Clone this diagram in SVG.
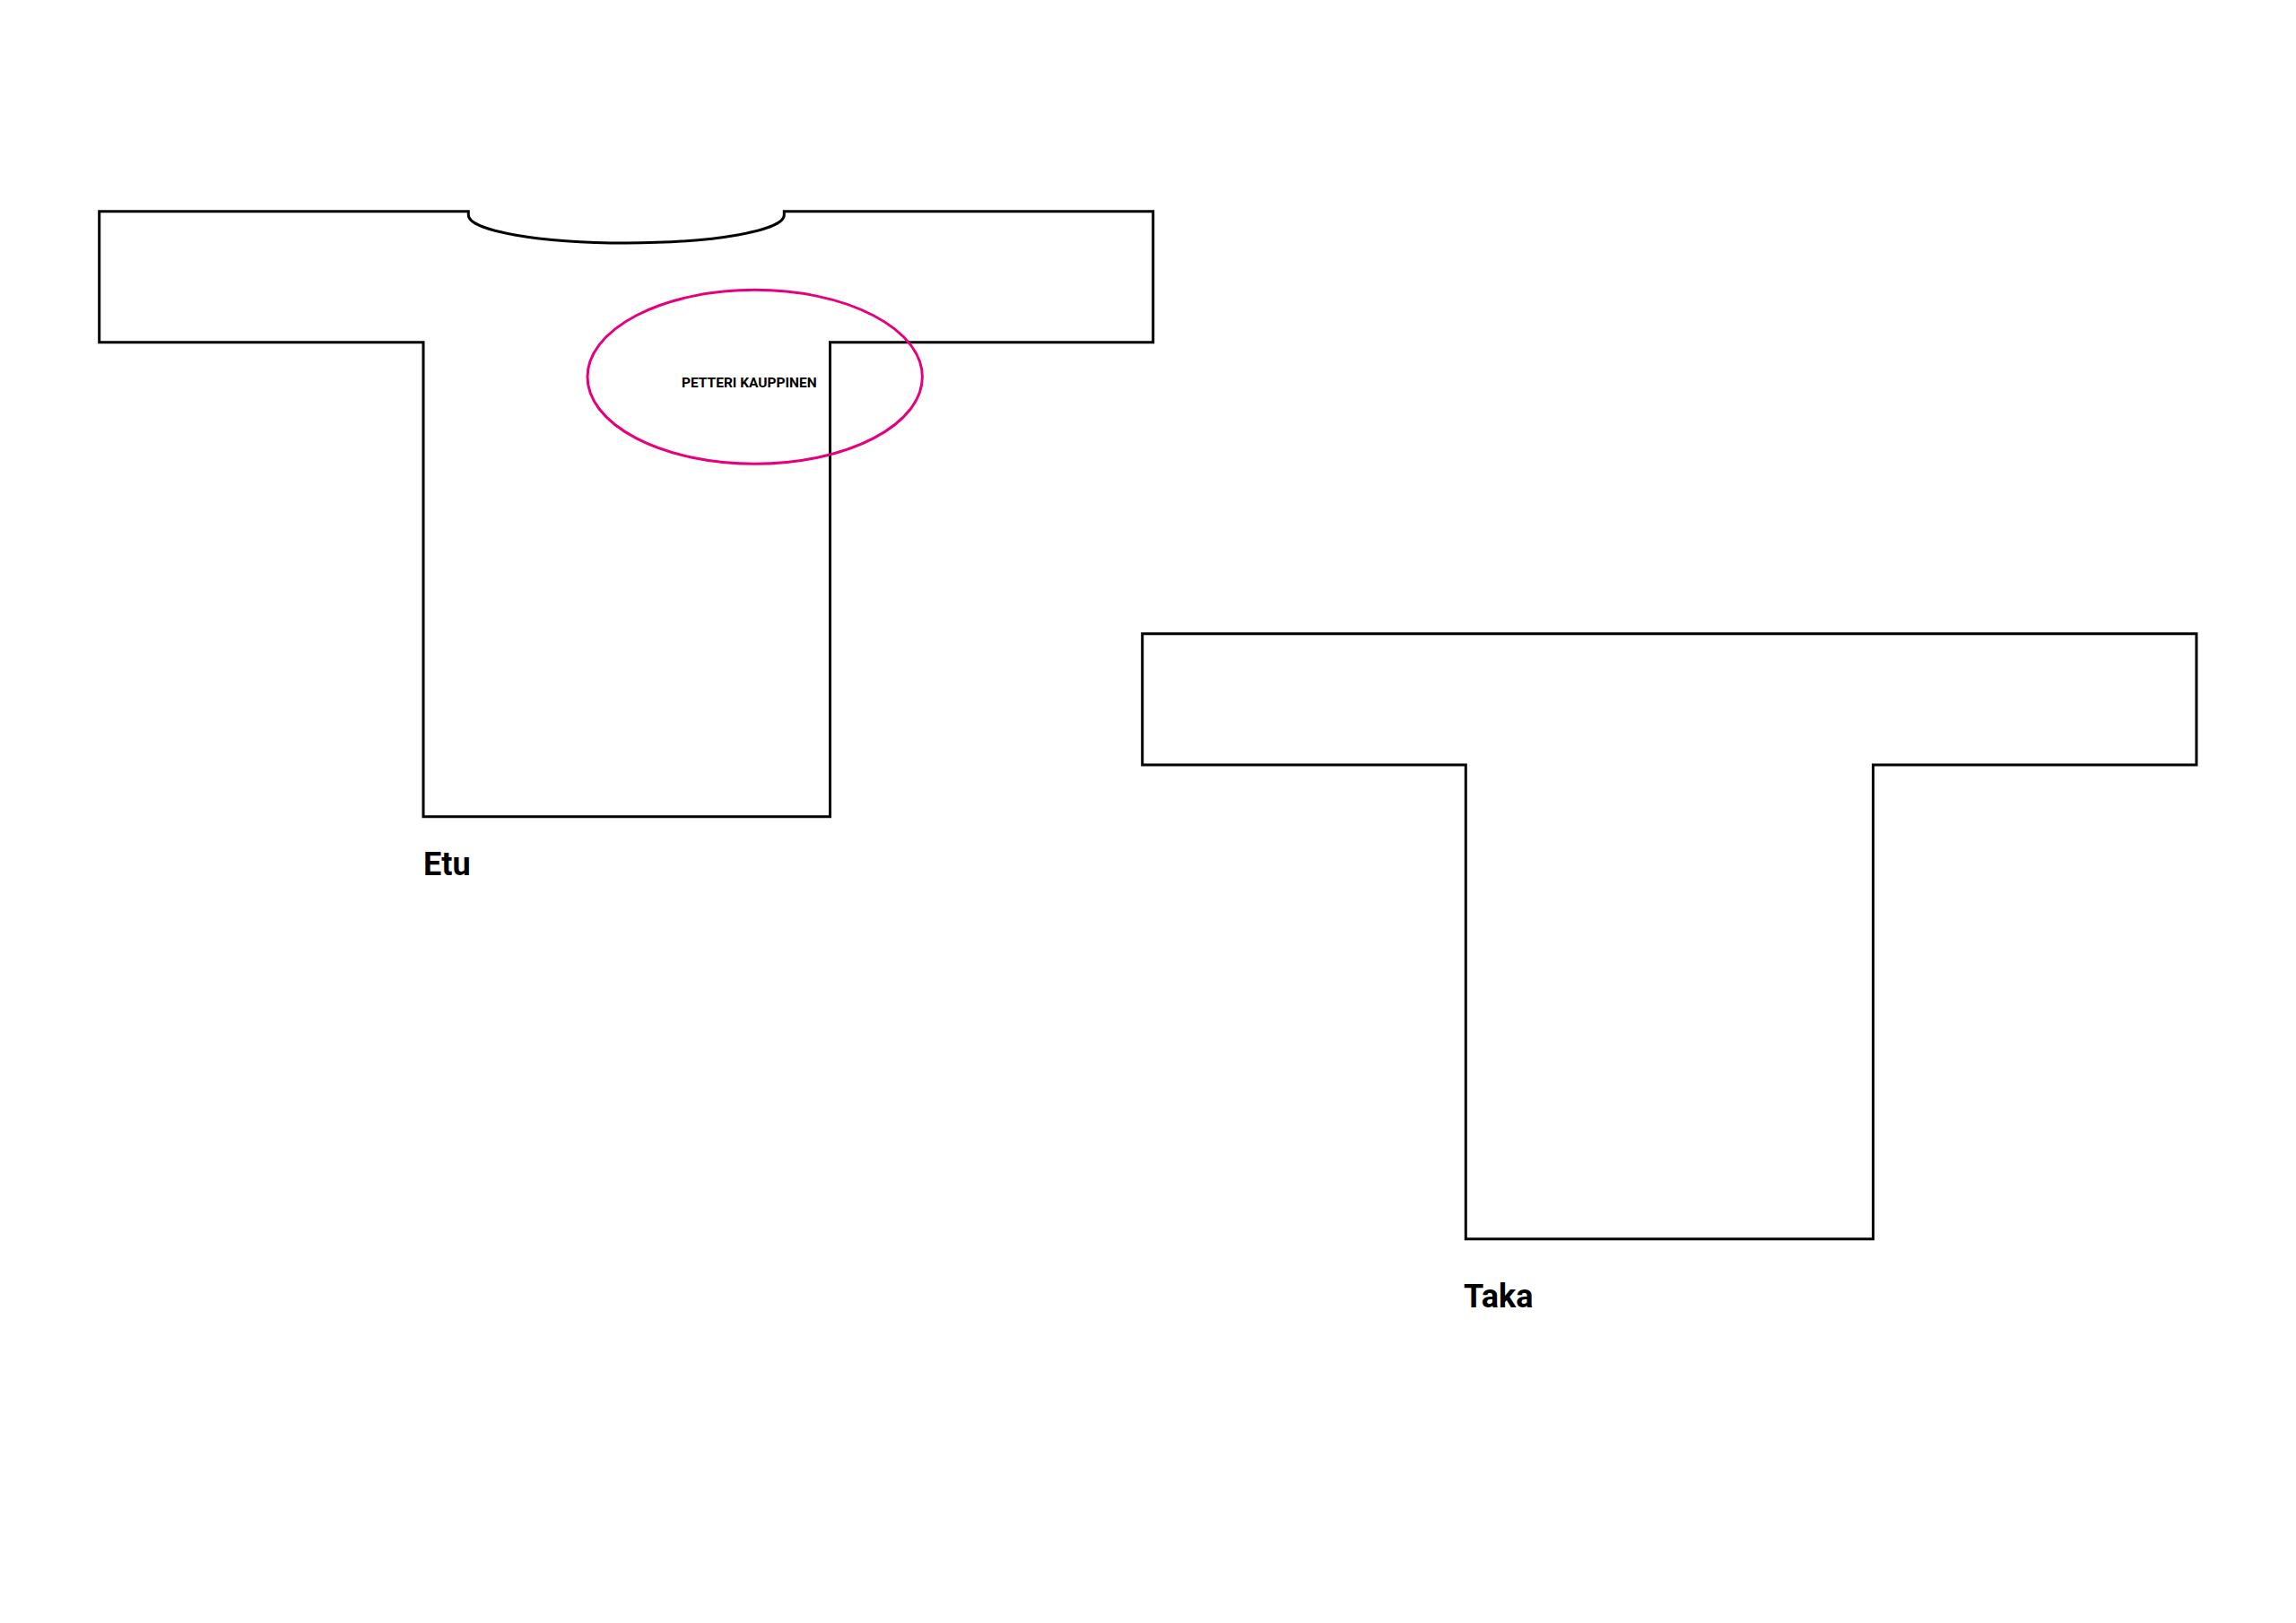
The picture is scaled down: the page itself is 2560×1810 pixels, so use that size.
<svg xmlns="http://www.w3.org/2000/svg" width="2560" height="1810" viewBox="0 0 2560 1810">
<style>
.shirt{fill:none;stroke:#000;stroke-width:3;stroke-linejoin:miter}
.mark{fill:none;stroke:#e6007e;stroke-width:3}
.lbl{font-family:Roboto,"Liberation Sans",sans-serif;font-weight:bold;fill:#000}
</style>
<rect x="0" y="0" width="2560" height="1810" fill="#fff"/>
<g id="etu">
<path class="shirt" d="M110.7,235.7 H522.3 V240 A176,31 0 0 0 874.3,240 V235.7 H1285.7 V381.7 H925.5 V910.7 H472 V381.7 H110.7 Z"/>
<text class="lbl" x="472" y="976" font-size="36">Etu</text>
</g>
<g id="print">
<ellipse class="mark" cx="841.7" cy="420.3" rx="186.7" ry="97"/>
<text class="lbl" x="760" y="431.7" font-size="15.5">PETTERI KAUPPINEN</text>
</g>
<g id="taka">
<path class="shirt" d="M1273.7,706.7 H2449 V853 H2088.5 V1381.7 H1634.3 V853 H1273.7 Z"/>
<text class="lbl" x="1632" y="1458" font-size="36">Taka</text>
</g>
<g id="connectors"/>
</svg>
